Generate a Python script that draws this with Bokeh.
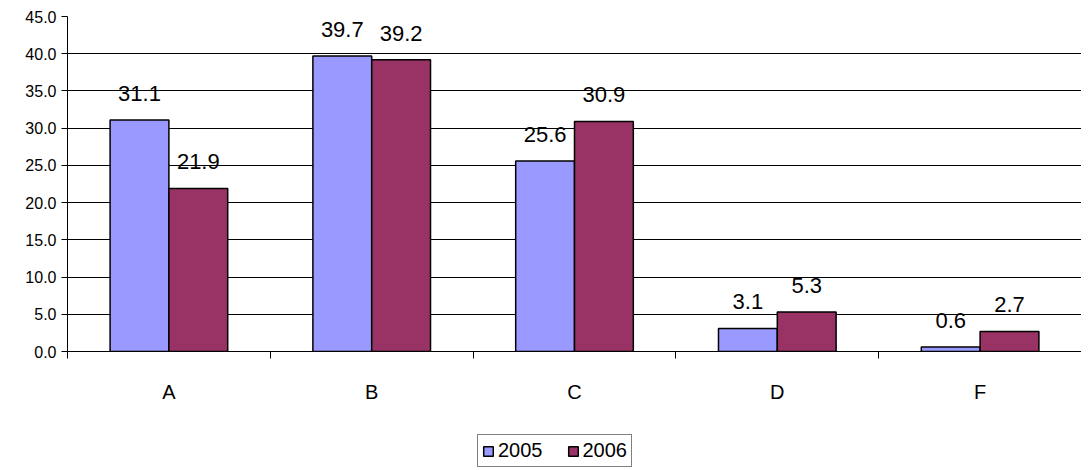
from bokeh.plotting import figure
from bokeh.models import FixedTicker, Legend, LegendItem, ColumnDataSource
from bokeh.layouts import column
from bokeh.core.properties import value
from bokeh.embed import file_html
from bokeh.resources import INLINE

grades = ["A", "B", "C", "D", "F"]
y2005 = [31.1, 39.7, 25.6, 3.1, 0.6]
y2006 = [21.9, 39.2, 30.9, 5.3, 2.7]
series = ["2005", "2006"]
colors = ["#9999FF", "#993366"]

FONT = "Liberation Sans"
bw = 0.29
centers = [i + 0.5 for i in range(len(grades))]

p = figure(width=1081, height=408, x_range=(0, len(grades)), y_range=(0, 45),
           output_backend="svg", toolbar_location=None,
           min_border_left=67, min_border_right=0, min_border_top=16, min_border_bottom=57)
p.outline_line_color = None

for vals, off, col in zip([y2005, y2006], [-bw / 2, bw / 2], colors):
    s = ColumnDataSource(dict(x=[c + off for c in centers], top=vals,
                              lab=[f"{v:.1f}" for v in vals]))
    p.vbar(x="x", top="top", width=bw, source=s, fill_color=col, line_color="black", line_width=1.5)
    p.text(x="x", y="top", text="lab", source=s, text_align="center", text_baseline="bottom",
           y_offset=-19, text_font=value(FONT), text_font_size="22px", text_color="black")

p.xaxis.ticker = FixedTicker(ticks=centers, minor_ticks=list(range(len(grades) + 1)))
p.xaxis.major_label_overrides = {c: g for c, g in zip(centers, grades)}
p.xaxis.major_tick_out = 0
p.xaxis.major_tick_in = 0
p.xaxis.minor_tick_out = 7
p.xaxis.minor_tick_in = 0
p.xaxis.minor_tick_line_color = "black"
p.xaxis.major_label_text_font = FONT
p.xaxis.major_label_text_font_size = "20px"
p.xaxis.major_label_text_color = "black"
p.xaxis.major_label_standoff = 22
p.xaxis.axis_line_color = "black"
p.xgrid.grid_line_color = None

p.yaxis.ticker = FixedTicker(ticks=list(range(0, 46, 5)))
p.yaxis.major_label_overrides = {v: f"{v:.1f}" for v in range(0, 46, 5)}
p.yaxis.major_label_text_font = FONT
p.yaxis.major_label_text_font_size = "16px"
p.yaxis.major_label_text_color = "black"
p.yaxis.major_tick_out = 6
p.yaxis.major_tick_in = 0
p.yaxis.minor_tick_line_color = None
p.yaxis.axis_line_color = "black"
p.ygrid.grid_line_color = "black"
p.ygrid.grid_line_width = 1

# legend strip below the chart
q = figure(width=1081, height=62, x_range=(0, 1), y_range=(0, 1),
           output_backend="svg", toolbar_location=None,
           min_border=0)
q.axis.visible = False
q.grid.visible = False
q.outline_line_color = None
items = []
for name, col in zip(series, colors):
    r = q.rect(x=[-5], y=[-5], width=1, height=1, fill_color=col, line_color="black", line_width=1.5)
    items.append(LegendItem(label=name, renderers=[r]))
legend = Legend(items=items, orientation="horizontal", location=(410, 3), border_line_color="black",
                label_text_font=FONT, label_text_font_size="20px", label_text_color="black",
                glyph_width=12, glyph_height=12, label_height=18,
                padding=4, spacing=24, margin=0, label_standoff=4)
q.add_layout(legend, "center")

open("out.html", "w").write(file_html(column(p, q, spacing=0), INLINE))
